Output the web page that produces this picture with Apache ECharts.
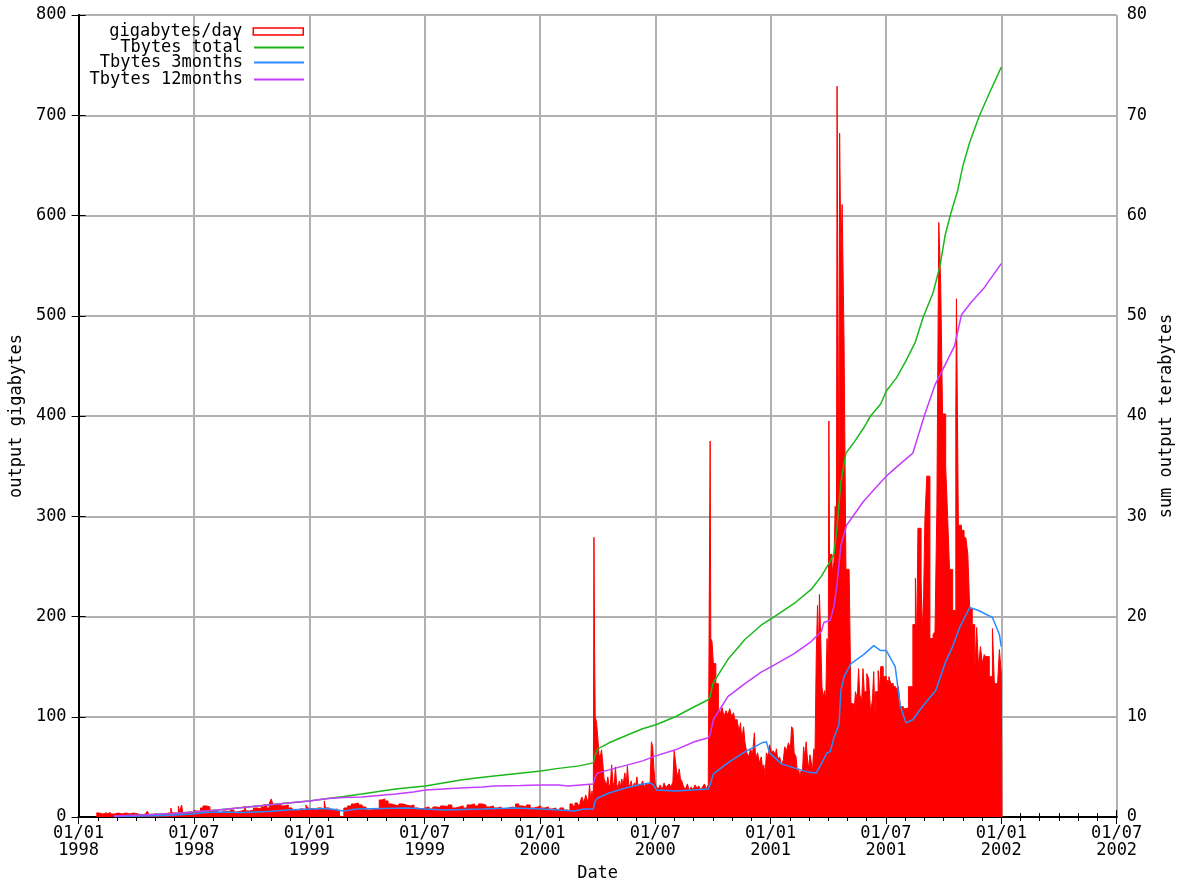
<!DOCTYPE html>
<html><head><meta charset="utf-8">
<script src="https://cdn.jsdelivr.net/npm/echarts@6/dist/echarts.min.js"></script>
<style>html,body{margin:0;padding:0;background:#fff;overflow:hidden}#c{width:1183px;height:887px}</style>
</head><body><div id="c"></div>
<script>
// x values: days since 1998-01-01
const xTickLabels = ['01/01\n1998','01/07\n1998','01/01\n1999','01/07\n1999','01/01\n2000','01/07\n2000','01/01\n2001','01/07\n2001','01/01\n2002','01/07\n2002'];
const yLeftMax = 800, yLeftStep = 100;
const yRightMax = 80, yRightStep = 10;

// gigabytes/day : [day, GB]
const gb1998 = [[28,4],[33,3],[38,4],[44,3],[49,5],[51,3],[57,4],[63,3],[69,4],[75,3],[81,4],[87,3],[94,2],[100,3],[106,2],[109,6],[111,2],[117,3],[123,2],[129,3],[135,2],[141,4],[146,9],[148,4],[153,3],[158,11],[160,5],[163,12],[165,4],[171,5],[177,4],[182,6],[188,5],[193,9],[197,11],[203,10],[208,6],[214,5],[221,4],[228,6],[234,5],[240,7],[246,5],[252,6],[258,7],[263,11],[265,6],[271,7],[277,9],[283,8],[289,10],[294,12],[298,9],[302,14],[305,18],[308,12],[314,13],[320,11],[326,12],[332,9],[338,7],[344,6],[350,8],[356,7],[360,12],[363,9]];
const gb1999 = [[366,8],[372,7],[378,9],[384,8],[389,16],[391,9],[397,7],[403,8],[409,6],[413,1],[416,0],[420,9],[426,11],[432,13],[437,14],[443,12],[449,10],[455,7],[462,8],[470,7],[476,17],[480,18],[485,16],[490,13],[495,12],[501,11],[507,13],[513,12],[519,11],[525,12],[531,9],[537,8],[543,9],[549,10],[555,8],[561,10],[567,9],[573,11],[579,10],[585,12],[591,9],[597,10],[603,11],[609,9],[615,12],[621,13],[627,11],[633,13],[639,12],[645,10],[651,11],[657,9],[663,10],[669,8],[675,9],[681,10],[687,9],[692,13],[697,11],[703,10],[709,12],[715,9],[721,10],[727,11]];
const gb2000 = [[732,9],[738,10],[744,8],[750,9],[756,7],[762,9],[768,7],[774,6],[778,13],[782,11],[786,14],[790,12],[794,15],[797,20],[800,14],[803,22],[805,18],[807,12],[809,33],[811,16],[813,26],[815,12],[816,279],[817,167],[818,100],[820,95],[822,80],[824,62],[826,60],[828,67],[830,54],[832,38],[834,35],[836,32],[838,40],[840,30],[842,33],[844,52],[846,35],[848,30],[850,50],[852,33],[854,28],[856,36],[858,30],[860,38],[862,32],[865,44],[867,31],[869,51],[871,33],[873,30],[875,36],[877,28],[880,34],[882,30],[884,40],[886,29],[888,33],[890,31],[893,36],[896,30],[899,34],[902,32],[905,35],[907,75],[909,70],[911,48],[913,33],[915,30],[918,28],[921,32],[924,27],[927,34],[930,29],[932,31],[935,33],[938,30],[941,35],[943,66],[945,56],[947,45],[949,40],[951,48],[953,38],[955,36],[958,30],[961,28],[964,33],[967,26],[970,30],[973,27],[976,32],[979,29],[982,31],[985,27],[988,30],[991,33],[994,28],[997,32],[1000,375],[1001,178],[1003,175],[1005,153],[1009,133],[1013,107],[1016,104],[1019,109],[1022,100],[1025,106],[1028,102],[1031,108],[1034,100],[1037,104],[1039,97],[1043,95],[1046,85],[1048,94],[1050,78],[1053,90],[1055,75],[1058,64],[1061,60],[1064,68],[1067,62],[1070,84],[1072,58],[1075,64],[1078,54],[1081,60],[1083,48],[1085,52],[1087,40],[1089,64],[1092,60],[1094,72]];
const gb2001 = [[1097,64],[1100,66],[1103,62],[1105,68],[1107,57],[1110,60],[1113,52],[1116,57],[1118,70],[1121,66],[1124,74],[1127,68],[1129,90],[1131,88],[1133,64],[1136,60],[1138,45],[1140,48],[1142,40],[1144,46],[1146,42],[1148,70],[1150,59],[1152,75],[1154,58],[1156,48],[1158,62],[1160,55],[1162,45],[1164,68],[1166,64],[1168,160],[1170,211],[1172,160],[1173,222],[1175,182],[1177,130],[1179,119],[1181,126],[1183,116],[1185,178],[1187,160],[1188,395],[1189,262],[1193,245],[1196,254],[1198,310],[1200,286],[1201,729],[1202,547],[1204,300],[1205,682],[1207,560],[1209,611],[1211,520],[1212,475],[1215,247],[1220,247],[1223,113],[1227,93],[1230,125],[1233,118],[1235,148],[1237,122],[1240,116],[1242,148],[1244,125],[1248,143],[1251,138],[1254,105],[1257,117],[1259,145],[1261,100],[1262,125],[1266,146],[1268,125],[1270,150],[1274,140],[1279,136],[1283,140],[1286,133],[1290,130],[1294,128],[1298,130],[1301,110],[1306,108],[1310,109],[1314,130],[1321,192],[1325,238],[1327,172],[1329,288],[1334,237],[1336,185],[1338,220],[1340,296],[1343,340],[1348,178],[1353,182],[1356,185],[1359,309],[1362,593],[1365,533],[1368,402],[1373,349],[1376,300],[1379,247],[1384,206],[1389,405],[1390,517],[1393,291],[1398,286],[1402,280],[1405,278],[1408,262],[1411,208],[1415,192],[1419,146],[1422,189],[1425,150],[1428,170],[1431,153],[1434,162],[1436,160],[1442,140],[1447,188],[1450,133],[1455,131],[1458,167],[1461,143],[1462,0]];

// terabytes : [day, TB]
const tbTotal = [[56,0.1],[100,0.2],[150,0.35],[181,0.5],[220,0.7],[260,0.95],[300,1.2],[340,1.45],[365,1.6],[395,1.85],[420,2.05],[448,2.3],[475,2.55],[502,2.8],[525,2.95],[549,3.1],[577,3.4],[605,3.7],[630,3.9],[658,4.1],[695,4.35],[732,4.6],[760,4.85],[793,5.1],[815,5.4],[818,6.2],[822,6.8],[840,7.4],[870,8.2],[893,8.8],[914,9.2],[945,10.0],[975,11.0],[997,11.7],[1000,12.0],[1004,13.2],[1008,13.7],[1028,15.7],[1055,17.7],[1082,19.2],[1097,19.8],[1133,21.3],[1160,22.7],[1176,24.0],[1190,25.5],[1196,26.2],[1201,29],[1207,33.4],[1215,36.3],[1227,37.3],[1243,38.8],[1254,40],[1270,41.2],[1279,42.5],[1295,43.8],[1310,45.5],[1325,47.4],[1337,49.8],[1353,52.3],[1364,55],[1372,58],[1381,60.2],[1392,62.5],[1400,64.9],[1411,67.3],[1426,69.9],[1442,72.2],[1461,74.8]];
const tb3months = [[56,0.05],[100,0.1],[140,0.15],[181,0.3],[200,0.45],[230,0.5],[260,0.45],[300,0.55],[330,0.7],[365,0.8],[395,0.85],[420,0.6],[440,0.8],[480,0.85],[520,0.9],[549,0.8],[580,0.7],[640,0.8],[690,0.9],[732,0.8],[760,0.7],[785,0.6],[800,0.8],[815,0.8],[818,1.6],[822,1.9],[840,2.4],[866,2.9],[893,3.3],[905,3.4],[910,3.2],[915,2.7],[945,2.6],[972,2.7],[997,2.8],[1000,3.2],[1005,4.3],[1028,5.4],[1055,6.5],[1082,7.4],[1089,7.5],[1094,6.4],[1113,5.3],[1133,4.9],[1154,4.5],[1168,4.4],[1176,5.3],[1185,6.4],[1190,6.5],[1196,7.9],[1204,9.2],[1207,12.6],[1212,14],[1223,15.3],[1243,16.2],[1259,17.1],[1270,16.6],[1279,16.6],[1293,15],[1301,11.1],[1310,9.4],[1321,9.7],[1337,11.1],[1357,12.6],[1373,15.5],[1384,17],[1395,18.9],[1411,20.9],[1425,20.6],[1447,19.9],[1458,18.2],[1461,17.0]];
const tb12months = [[56,0.1],[100,0.2],[150,0.35],[181,0.5],[220,0.7],[260,0.95],[300,1.2],[340,1.45],[365,1.6],[395,1.85],[420,1.95],[448,2.0],[475,2.15],[502,2.3],[530,2.5],[549,2.7],[577,2.8],[605,2.9],[640,3.0],[658,3.1],[700,3.15],[732,3.2],[760,3.2],[775,3.1],[795,3.2],[815,3.3],[818,4.0],[822,4.4],[840,4.7],[893,5.6],[914,6.1],[945,6.7],[975,7.5],[997,7.9],[1000,8.2],[1005,9.7],[1028,12.0],[1055,13.3],[1082,14.5],[1097,15.0],[1133,16.3],[1160,17.5],[1176,18.5],[1180,19.4],[1190,19.6],[1196,21],[1201,23.3],[1207,27.1],[1216,29.1],[1243,31.5],[1270,33.4],[1279,34],[1295,34.9],[1321,36.3],[1340,40.2],[1356,43.1],[1372,45.1],[1387,47],[1398,50.1],[1414,51.4],[1434,52.8],[1461,55.2]];

const seriesNames = ['gigabytes/day','Tbytes total','Tbytes 3months','Tbytes 12months'];
const gbPerDay = gb1998.concat(gb1999, gb2000, gb2001);

const HALF_YEAR = 182.625;
const FONT = 'DejaVu Sans Mono';
const FS = 17;
const colRed = '#ff0000', colGreen = '#1ab81a', colBlue = '#2a8cff', colMag = '#c43cff';
const gridCol = '#b0b0b0';
const LEGEND_RIGHT = 1183 - 304;

function legendFor(name, top, h, style) {
  return {
    show: true, orient: 'vertical', align: 'right', right: LEGEND_RIGHT, top: top,
    padding: 0, itemWidth: 50, itemHeight: h, selectedMode: false,
    textStyle: { fontFamily: FONT, fontSize: FS, color: '#000', padding: [0, 6, 0, 0] },
    data: [{ name: name, icon: 'rect', itemStyle: style }]
  };
}

const xBase = {
  type: 'value', min: 0, max: HALF_YEAR * 9, interval: HALF_YEAR,
  axisLine: { show: true, lineStyle: { color: '#000', width: 2 } },
  axisTick: { show: true, inside: true, length: 7, lineStyle: { color: '#000', width: 1 } },
  minorTick: { show: true, splitNumber: 6, length: 4, lineStyle: { color: '#000', width: 1 } }
};

const chart = echarts.init(document.getElementById('c'), null, { renderer: 'canvas' });
chart.setOption({
  backgroundColor: '#fff',
  animation: false,
  grid: { left: 77, right: 58, top: 15, bottom: 66, containLabel: false },
  legend: [
    legendFor(seriesNames[0], 23, 7, { color: '#fff', borderColor: colRed, borderWidth: 1.5 }),
    legendFor(seriesNames[1], 39, 2, { color: colGreen }),
    legendFor(seriesNames[2], 54, 2, { color: colBlue }),
    legendFor(seriesNames[3], 71, 2, { color: colMag })
  ],
  xAxis: [
    Object.assign({}, xBase, {
      position: 'bottom',
      name: 'Date', nameLocation: 'middle', nameGap: 48,
      nameTextStyle: { fontFamily: FONT, fontSize: FS, color: '#000' },
      axisLabel: {
        show: true, margin: 8, fontFamily: FONT, fontSize: FS, color: '#000', lineHeight: 17,
        formatter: function (v) { return xTickLabels[Math.round(v / HALF_YEAR)] || ''; }
      },
      splitLine: { show: true, lineStyle: { color: gridCol, width: 2 } }
    }),
    Object.assign({}, xBase, {
      position: 'top',
      axisLabel: { show: false },
      splitLine: { show: false }
    })
  ],
  yAxis: [
    {
      type: 'value', min: 0, max: yLeftMax, interval: yLeftStep, position: 'left',
      name: 'output gigabytes', nameLocation: 'middle', nameGap: 50, nameRotate: 90,
      nameTextStyle: { fontFamily: FONT, fontSize: FS, color: '#000' },
      axisLine: { show: true, lineStyle: { color: '#000', width: 2 } },
      axisTick: { show: true, inside: true, length: 7, lineStyle: { color: '#000' } },
      axisLabel: { margin: 12, fontFamily: FONT, fontSize: FS, color: '#000' },
      splitLine: { show: true, lineStyle: { color: gridCol, width: 2 } }
    },
    {
      type: 'value', min: 0, max: yRightMax, interval: yRightStep, position: 'right',
      name: 'sum output terabytes', nameLocation: 'middle', nameGap: 41, nameRotate: 90,
      nameTextStyle: { fontFamily: FONT, fontSize: FS, color: '#000' },
      axisLine: { show: true, lineStyle: { color: '#000', width: 2 } },
      axisTick: { show: true, inside: true, length: 7, lineStyle: { color: '#000' } },
      axisLabel: { margin: 10, fontFamily: FONT, fontSize: FS, color: '#000' },
      splitLine: { show: false }
    }
  ],
  series: [
    {
      name: seriesNames[0], type: 'line', step: 'end', xAxisIndex: 0, yAxisIndex: 0,
      data: gbPerDay, symbol: 'none', silent: true,
      lineStyle: { color: colRed, width: 1 },
      itemStyle: { color: colRed },
      areaStyle: { color: colRed, opacity: 1 }
    },
    {
      name: seriesNames[1], type: 'line', xAxisIndex: 0, yAxisIndex: 1, data: tbTotal,
      symbol: 'none', lineStyle: { color: colGreen, width: 1.5 }, itemStyle: { color: colGreen }
    },
    {
      name: seriesNames[2], type: 'line', xAxisIndex: 0, yAxisIndex: 1, data: tb3months,
      symbol: 'none', lineStyle: { color: colBlue, width: 1.5 }, itemStyle: { color: colBlue }
    },
    {
      name: seriesNames[3], type: 'line', xAxisIndex: 0, yAxisIndex: 1, data: tb12months,
      symbol: 'none', lineStyle: { color: colMag, width: 1.5 }, itemStyle: { color: colMag }
    }
  ]
});
</script></body></html>
